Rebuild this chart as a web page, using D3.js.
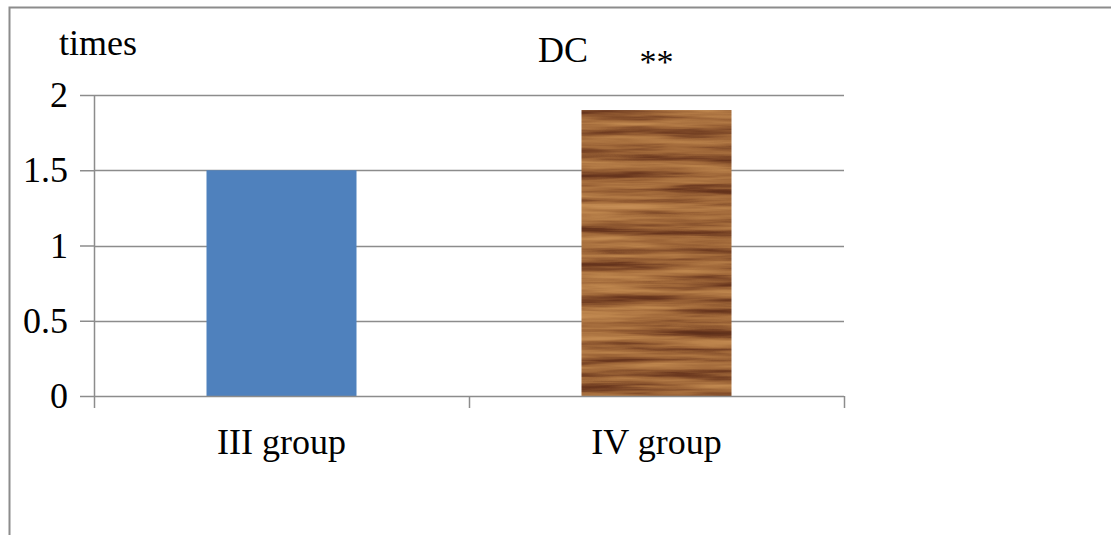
<!DOCTYPE html>
<html>
<head>
<meta charset="utf-8">
<script src="https://cdn.jsdelivr.net/npm/d3@7"></script>
<style>
  body { margin: 0; background: #fff; }
  text { font-family: "Liberation Serif", "Times New Roman", serif; fill: #000; }
</style>
</head>
<body>
<div id="chart"></div>
<script>
// data
const groups = ["III group", "IV group"];
const values = [1.5, 1.9];
const yTicks = [0, 0.5, 1, 1.5, 2];
const yLabel = "times";
const title = "DC";
const signif = ["", "**"];

const width = 1111, height = 535;
const margin = { top: 95, right: 267, bottom: 139, left: 94 };
const innerWidth = width - margin.left - margin.right;
const innerHeight = height - margin.top - margin.bottom;

const svg = d3.select("#chart")
  .append("svg")
  .attr("width", width)
  .attr("height", height);

// wood texture filter for the second bar
const defs = svg.append("defs");
const wood = defs.append("filter")
  .attr("id", "wood")
  .attr("color-interpolation-filters", "sRGB")
  .attr("x", 0).attr("y", 0).attr("width", 1).attr("height", 1);
wood.append("feTurbulence")
  .attr("type", "fractalNoise")
  .attr("baseFrequency", "0.007 0.12")
  .attr("numOctaves", 4)
  .attr("seed", 7)
  .attr("result", "noise");
wood.append("feColorMatrix")
  .attr("in", "noise")
  .attr("type", "matrix")
  .attr("values", "1 0 0 0 0  1 0 0 0 0  1 0 0 0 0  0 0 0 0 1")
  .attr("result", "grey");
const ct = wood.append("feComponentTransfer").attr("in", "grey").attr("result", "col");
ct.append("feFuncR").attr("type", "table").attr("tableValues", "0.30 0.42 0.62 0.74 0.80");
ct.append("feFuncG").attr("type", "table").attr("tableValues", "0.14 0.22 0.40 0.52 0.58");
ct.append("feFuncB").attr("type", "table").attr("tableValues", "0.08 0.12 0.22 0.30 0.36");
wood.append("feComposite")
  .attr("in", "col").attr("in2", "SourceGraphic").attr("operator", "in");

// outer frame (top and left only visible)
svg.append("path")
  .attr("d", `M${width},7.5H9.5V${height}`)
  .attr("fill", "none")
  .attr("stroke", "#8c8c8c")
  .attr("stroke-width", 2);

const g = svg.append("g")
  .attr("transform", `translate(${margin.left},${margin.top})`);

const x = d3.scaleBand().domain(groups).range([0, innerWidth]).paddingInner(0.6).paddingOuter(0.3);
const x0 = d3.scaleBand().domain(groups).range([0, innerWidth]);
const y = d3.scaleLinear().domain([0, 2]).range([innerHeight, 0]);

// gridlines
g.append("g")
  .selectAll("line")
  .data(yTicks.filter(d => d > 0))
  .enter().append("line")
  .attr("x1", 0).attr("x2", innerWidth)
  .attr("y1", d => Math.round(y(d)) + 0.5).attr("y2", d => Math.round(y(d)) + 0.5)
  .attr("stroke", "#8c8c8c").attr("stroke-width", 1.5);

// bars
g.selectAll("rect.bar")
  .data(values)
  .enter().append("rect")
  .attr("class", "bar")
  .attr("x", (d, i) => x(groups[i]))
  .attr("y", d => y(d))
  .attr("width", x.bandwidth())
  .attr("height", d => innerHeight - y(d))
  .attr("fill", (d, i) => i === 0 ? "#4f81bd" : "#a86d3a")
  .attr("filter", (d, i) => i === 0 ? null : "url(#wood)");

// y axis
const yAxis = g.append("g")
  .call(d3.axisLeft(y).tickValues(yTicks).tickSize(14).tickPadding(12).tickFormat(d3.format("")));
yAxis.selectAll("line, path").attr("stroke", "#8c8c8c").attr("stroke-width", 1.5);
yAxis.select(".domain").attr("d", `M0.5,0V${innerHeight}`);
yAxis.selectAll("text").style("font-size", "36px").attr("font-family", null);

// x axis
const xAxis = g.append("g")
  .attr("transform", `translate(0,${innerHeight})`);
xAxis.append("line")
  .attr("x1", 0).attr("x2", innerWidth).attr("y1", 0.5).attr("y2", 0.5)
  .attr("stroke", "#8c8c8c").attr("stroke-width", 1.5);
xAxis.selectAll("line.tick")
  .data([0, ...groups.map(d => x0(d) + x0.bandwidth())])
  .enter().append("line")
  .attr("class", "tick")
  .attr("x1", d => d + 0.5).attr("x2", d => d + 0.5)
  .attr("y1", 0).attr("y2", 12)
  .attr("stroke", "#8c8c8c").attr("stroke-width", 1.5);
xAxis.selectAll("text")
  .data(groups)
  .enter().append("text")
  .attr("x", d => x(d) + x.bandwidth() / 2)
  .attr("y", 58)
  .attr("text-anchor", "middle")
  .style("font-size", "36px")
  .text(d => d);

// labels
svg.append("text")
  .attr("x", 59).attr("y", 55)
  .style("font-size", "36px")
  .text(yLabel);
svg.append("text")
  .attr("x", 538).attr("y", 62)
  .style("font-size", "36px")
  .text(title);
g.selectAll("text.sig")
  .data(signif)
  .enter().append("text")
  .attr("class", "sig")
  .attr("x", (d, i) => x(groups[i]) + x.bandwidth() / 2)
  .attr("y", -22)
  .attr("text-anchor", "middle")
  .style("font-size", "34px")
  .text(d => d);
</script>
</body>
</html>
